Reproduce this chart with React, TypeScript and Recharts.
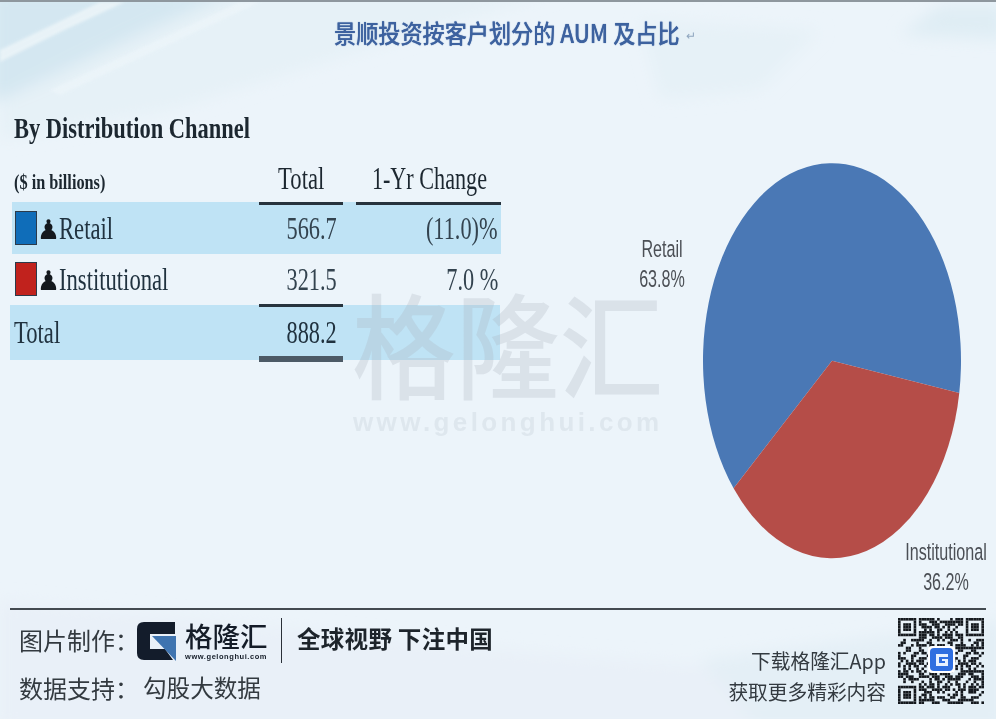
import React from 'react';
import { PieChart, Pie, Cell } from 'recharts';

const channels = ['Retail', 'Institutional'];
const totals = [566.7, 321.5];
const changes = ['(11.0)%', '7.0 %'];
const swatches = ['#0f6db9', '#c1221d'];
const sliceColors = ['#4a78b5', '#b54d48'];
const grandTotal = '888.2';

const pieData = channels.map((name, i) => ({ name, value: totals[i] }));

const SERIF = '"Liberation Serif", serif';
const SANS = '"Noto Sans CJK SC", "Noto Sans", sans-serif';

// pie is stretched in the picture, so the whole chart gets scaled vertically
const RADIUS = 129;
const STRETCH = 197.5 / 129;
const labelOffsets = [
  { dx: -170, dy: -58 },
  { dx: 114, dy: 140 },
];

function T({
  x,
  y,
  size,
  children,
  font = SERIF,
  color = '#1c2730',
  weight = 400,
  sx = 1,
  right = false,
  style,
}: {
  x: number;
  y: number;
  size: number;
  children: React.ReactNode;
  font?: string;
  color?: string;
  weight?: number;
  sx?: number;
  right?: boolean;
  style?: React.CSSProperties;
}) {
  const pos = right ? { right: 996 - x } : { left: x };
  return (
    <div
      style={{
        position: 'absolute',
        ...pos,
        top: y - size / 2,
        fontFamily: font,
        fontSize: size,
        lineHeight: `${size}px`,
        color,
        fontWeight: weight,
        whiteSpace: 'pre',
        transform: `scaleX(${sx})`,
        transformOrigin: right ? 'right center' : 'left center',
        ...style,
      }}
    >
      {children}
    </div>
  );
}

function Rule({ x, y, w, h = 3, color = '#27333d' }: { x: number; y: number; w: number; h?: number; color?: string }) {
  return <div style={{ position: 'absolute', left: x, top: y, width: w, height: h, background: color }} />;
}

function PieLabel(props: any) {
  const { cx, cy, index, name, percent } = props;
  const off = labelOffsets[index];
  const x = cx + off.dx;
  const y = cy + off.dy;
  return (
    <text x={x} y={y} textAnchor='middle' fontFamily='"Liberation Sans", sans-serif' fontSize={15.5} fill='#4b4f55' transform={`translate(${x} 0) scale(1.04 1) translate(${-x} 0)`}>
      <tspan x={x} dy={-10}>{name}</tspan>
      <tspan x={x} dy={19.6}>{`${(percent * 100).toFixed(1)}%`}</tspan>
    </text>
  );
}

function QrCode() {
  const n = 33;
  const cell = 86 / n;
  const rects: React.ReactNode[] = [];
  const finder = (r: number, c: number) => {
    const inBox = (o: number, s: number) => r >= o && r < o + s;
    const tests = [
      [0, 0],
      [0, n - 7],
      [n - 7, 0],
    ];
    for (const [a, b] of tests) {
      if (inBox(a, 7) && c >= b && c < b + 7) {
        const rr = r - a;
        const cc = c - b;
        return rr === 0 || rr === 6 || cc === 0 || cc === 6 || (rr >= 2 && rr <= 4 && cc >= 2 && cc <= 4) ? 1 : 0;
      }
      if (r >= a - 1 && r <= a + 7 && c >= b - 1 && c <= b + 7) return 0;
    }
    return -1;
  };
  for (let r = 0; r < n; r++) {
    for (let c = 0; c < n; c++) {
      const f = finder(r, c);
      const on = f === -1 ? (r * 7 + c * 13 + ((r * c) % 5) * 3 + ((r ^ c) % 3)) % 5 < 3 : f === 1;
      if (on) rects.push(<rect key={`${r}-${c}`} x={c * cell} y={r * cell} width={cell} height={cell} fill='#14181d' />);
    }
  }
  return (
    <svg width={86} height={86} style={{ position: 'absolute', left: 898, top: 618 }}>
      {rects}
      <rect x={30} y={28} width={27} height={27} rx={4} fill='#fff' />
      <rect x={32} y={30} width={23} height={23} rx={4} fill='#2f6fe0' />
      <path d='M38 36h12v3h-9v6h6v-2h-3v-2h6v7h-12z' fill='#e8f2ff' />
    </svg>
  );
}

function Logo() {
  return (
    <svg width={40} height={40} style={{ position: 'absolute', left: 137, top: 622 }}>
      <path d='M7 0h31v12H13v15h15l8 11H7q-7 0-7-7V7q0-7 7-7z' fill='#131c2b' />
      <path d='M15 14h24v25z' fill='#3f74b0' />
    </svg>
  );
}

function Background() {
  return (
    <svg width={996} height={719} style={{ position: 'absolute', left: 0, top: 0 }}>
      <defs>
        <filter id='soft' x='-10%' y='-10%' width='120%' height='120%'>
          <feGaussianBlur stdDeviation='8' />
        </filter>
        <filter id='softer' x='-10%' y='-10%' width='120%' height='120%'>
          <feGaussianBlur stdDeviation='1.5' />
        </filter>
      </defs>
      <rect width={996} height={719} fill='#ecf4fa' />
      <g filter='url(#soft)'>
        <polygon points='-10,-10 240,-10 150,30 0,100 -10,100' fill='#d4e7f1' />
        <polygon points='240,-10 560,-10 170,110 0,140 0,100' fill='#e6f1f7' />
        <polygon points='640,20 820,30 760,90 660,100' fill='#e6f1f7' />
        <polygon points='940,5 1006,5 1006,40 900,35' fill='#dfedf4' />
        <polygon points='0,600 500,650 1006,690 1006,729 0,729' fill='#e9f0f8' />
        <polygon points='700,660 1006,620 1006,729 760,729' fill='#e4eff6' />
      </g>
      <g filter='url(#softer)' opacity={0.65}>
        <polygon points='100,2 125,2 0,60 0,50' fill='#f4f9fb' />
        <polygon points='0,50 60,32 0,62' fill='#f4f9fb' />
        <polygon points='240,2 260,2 60,95 50,90' fill='#eef6fa' />
      </g>
      <rect width={996} height={2} fill='#8e979e' />
    </svg>
  );
}

export default function App() {
  const rowY = [228, 279];
  return (
    <div style={{ position: 'absolute', left: 0, top: 0, width: 996, height: 719, overflow: 'hidden' }}>
      <Background />

      <div style={{ position: 'absolute', inset: 0, filter: 'blur(0.55px)' }}>
        <T x={334} y={32} size={25} font={SANS} color='#3d629f' weight={500} sx={0.885} style={{ textShadow: '0 0 1px #3d629f' }}>
          景顺投资按客户划分的 AUM 及占比
        </T>
        <T x={686} y={35} size={12} font={SANS} color='#8fa6bf'>↵</T>

        <T x={14} y={128} size={29} weight={700} sx={0.775}>By Distribution Channel</T>
        <T x={14} y={182} size={21} weight={700} sx={0.775}>($ in billions)</T>
        <T x={324} y={178} size={31} right sx={0.73}>Total</T>
        <T x={487} y={178} size={31} right sx={0.715}>1-Yr Change</T>

        <Rule x={12} y={202} w={489} h={52} color='#bfe3f5' />
        <Rule x={10} y={305} w={490} h={55} color='#bfe3f5' />
        <Rule x={259} y={202} w={84} />
        <Rule x={356} y={202} w={145} />
        <Rule x={259} y={304} w={84} />
        <Rule x={259} y={356} w={84} h={6} color='#4c5a66' />

        {channels.map((name, i) => (
          <React.Fragment key={name}>
            <div
              style={{
                position: 'absolute',
                left: 15,
                top: rowY[i] - 17,
                width: 22,
                height: 34,
                background: swatches[i],
                boxSizing: 'border-box',
                border: '1px solid #2b3a4a',
              }}
            />
            <T x={37} y={rowY[i] + 1} size={27} font='"DejaVu Sans"' color='#14191e' sx={0.95}>♟</T>
            <T x={59} y={rowY[i]} size={31} sx={0.73} color='#20323f'>{name}</T>
            <T x={337} y={rowY[i]} size={31} right sx={0.72} color='#33434f'>{totals[i].toFixed(1)}</T>
            <T x={498} y={rowY[i]} size={31} right sx={0.72} color='#33434f'>{changes[i]}</T>
          </React.Fragment>
        ))}
        <T x={14} y={332} size={31} sx={0.73} color='#20323f'>Total</T>
        <T x={337} y={332} size={31} right sx={0.72} color='#20323f'>{grandTotal}</T>

        {/* watermark */}
        <T x={352} y={341} size={114} font={SANS} color='rgba(170,178,190,0.27)' weight={500} sx={0.91}>格隆汇</T>
        <T x={353} y={422} size={26} font='"Liberation Sans"' weight={700} color='rgba(170,178,190,0.2)' style={{ letterSpacing: 3.4 }}>www.gelonghui.com</T>

        <div style={{ position: 'absolute', left: 600, top: 361 - 150 * STRETCH, transform: `scaleY(${STRETCH})`, transformOrigin: 'top left' }}>
          <PieChart width={396} height={325} margin={{ top: 0, right: 0, bottom: 0, left: 0 }}>
            <Pie
              data={pieData}
              dataKey='value'
              nameKey='name'
              cx={232}
              cy={150}
              outerRadius={RADIUS}
              startAngle={-9.4}
              endAngle={350.6}
              stroke='none'
              label={PieLabel}
              labelLine={false}
              isAnimationActive={false}
            >
              {pieData.map((entry, index) => (
                <Cell key={`cell-${entry.name}`} fill={sliceColors[index]} />
              ))}
            </Pie>
          </PieChart>
        </div>

        {/* footer */}
        <Rule x={10} y={608} w={976} h={2} color='#434a50' />
        <T x={19} y={640} size={24} font={SANS} color='#333a40'>图片制作：</T>
        <Logo />
        <T x={185} y={636} size={27.5} font={SANS} color='#141c28' weight={500}>格隆汇</T>
        <T x={185} y={657} size={7.5} font='"Liberation Sans"' color='#141c28' weight={700} style={{ letterSpacing: 0.55 }}>www.gelonghui.com</T>
        <Rule x={281} y={618} w={1} h={45} color='#2a3038' />
        <T x={297} y={639} size={23.5} font={SANS} weight={700} color='#1d242b' style={{ letterSpacing: 0.3 }}>全球视野 下注中国</T>
        <T x={19} y={688} size={24} font={SANS} color='#333a40'>数据支持：</T>
        <T x={143} y={688} size={23.6} font={SANS} color='#333a40'>勾股大数据</T>
        <T x={886} y={661} size={20} right font={SANS} color='#333a40' sx={0.985}>下载格隆汇App</T>
        <T x={886} y={692} size={20} right font={SANS} color='#333a40' sx={0.985}>获取更多精彩内容</T>
        <QrCode />
      </div>
    </div>
  );
}
